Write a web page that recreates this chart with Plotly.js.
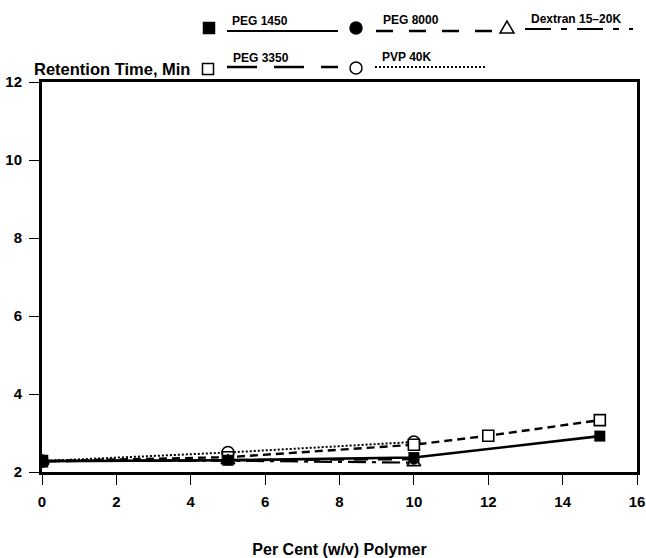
<!DOCTYPE html>
<html>
<head>
<meta charset="utf-8">
<script src="https://cdn.plot.ly/plotly-3.0.1.min.js"></script>
<style>html,body{margin:0;padding:0;background:#fff;}#chart{width:646px;height:558px;}</style>
</head>
<body>
<div id="chart"></div>
<script>
// ---- data ----
const seriesNames = ["PEG 1450", "PEG 8000", "Dextran 15\u201320K", "PEG 3350", "PVP 40K"];
const xPEG1450 = [0, 5, 10, 15];
const yPEG1450 = [2.28, 2.30, 2.37, 2.92];
const xPEG8000 = [0, 5, 10];
const yPEG8000 = [2.28, 2.31, 2.33];
const xDextran = [0, 5, 10];
const yDextran = [2.28, 2.29, 2.24];
const xPEG3350 = [0, 5, 10, 12, 15];
const yPEG3350 = [2.28, 2.38, 2.70, 2.93, 3.33];
const xPVP = [0, 5, 10];
const yPVP = [2.28, 2.50, 2.77];
const xTicks = [0, 2, 4, 6, 8, 10, 12, 14, 16];
const yTicks = [2, 4, 6, 8, 10, 12];
const xTitle = "Per Cent (w/v) Polymer";
const yTitle = "Retention Time, Min";

// ---- layout helpers ----
const FONT = "Liberation Sans, Arial, Helvetica, sans-serif";
const L = 42, R = 637, T = 82, B = 472, W = 646, H = 558;
const px = p => (p - L) / (R - L);
const py = p => (B - p) / (B - T);

const traces = [
  {name: seriesNames[4], x: xPVP, y: yPVP, mode: "lines+markers",
   line: {color: "black", width: 2, dash: "2px,2px"},
   marker: {symbol: "circle", size: 12, color: "white", line: {color: "black", width: 1.6}}},
  {name: seriesNames[3], x: xPEG3350, y: yPEG3350, mode: "lines+markers",
   line: {color: "black", width: 2.4, dash: "8px,5px"},
   marker: {symbol: "square", size: 11, color: "white", line: {color: "black", width: 1.6}}},
  {name: seriesNames[2], x: xDextran, y: yDextran, mode: "lines+markers",
   line: {color: "black", width: 2.2, dash: "18px,6px,4px,6px"},
   marker: {symbol: "triangle-up", size: 12, color: "white", line: {color: "black", width: 1.6}}},
  {name: seriesNames[1], x: xPEG8000, y: yPEG8000, mode: "lines+markers",
   line: {color: "black", width: 2.4, dash: "14px,10px"},
   marker: {symbol: "circle", size: 11, color: "black"}},
  {name: seriesNames[0], x: xPEG1450, y: yPEG1450, mode: "lines+markers",
   line: {color: "black", width: 2.6},
   marker: {symbol: "square", size: 11, color: "black"}}
];

// legend drawn as shapes + annotations (pixel positions)
const legendItems = [
  {mx: 209, my: 28, kind: "rect", fill: "black", tx: 230, ty: 21, lx0: 227, lx1: 338, ly: 31, dash: "solid", lw: 2, label: seriesNames[0]},
  {mx: 356, my: 28, kind: "circle", fill: "black", tx: 381, ty: 20, lx0: 376, lx1: 493, ly: 31, dash: "17px,16px", lw: 2.5, label: seriesNames[1]},
  {mx: 507, my: 28, kind: "tri", fill: "white", tx: 529, ty: 19, lx0: 525, lx1: 633, ly: 29, dash: "26px,10px,6px,10px", lw: 2, label: seriesNames[2]},
  {mx: 208, my: 69, kind: "rect", fill: "white", tx: 231, ty: 58, lx0: 227, lx1: 338, ly: 67, dash: "30px,17px", lw: 2.5, label: seriesNames[3]},
  {mx: 356, my: 68, kind: "circle", fill: "white", tx: 380, ty: 57, lx0: 375, lx1: 487, ly: 67, dash: "2px,2px", lw: 2, label: seriesNames[4]}
];

const shapes = [];
const annotations = [];
legendItems.forEach(it => {
  const s = 5.5;
  const mline = {color: "black", width: 1.5};
  if (it.kind === "rect") {
    shapes.push({type: "rect", xref: "paper", yref: "paper",
      x0: px(it.mx - s), x1: px(it.mx + s), y0: py(it.my + s), y1: py(it.my - s),
      fillcolor: it.fill, line: mline});
  } else if (it.kind === "circle") {
    shapes.push({type: "circle", xref: "paper", yref: "paper",
      x0: px(it.mx - s - 0.5), x1: px(it.mx + s + 0.5), y0: py(it.my + s + 0.5), y1: py(it.my - s - 0.5),
      fillcolor: it.fill, line: mline});
  } else {
    const p = `M ${px(it.mx - 7)} ${py(it.my + 5)} L ${px(it.mx + 7)} ${py(it.my + 5)} L ${px(it.mx)} ${py(it.my - 7)} Z`;
    shapes.push({type: "path", xref: "paper", yref: "paper", path: p, fillcolor: it.fill, line: mline});
  }
  shapes.push({type: "line", xref: "paper", yref: "paper",
    x0: px(it.lx0), x1: px(it.lx1), y0: py(it.ly), y1: py(it.ly),
    line: {color: "black", width: it.lw, dash: it.dash}});
  annotations.push({xref: "paper", yref: "paper", x: px(it.tx), y: py(it.ty),
    xanchor: "left", yanchor: "middle", showarrow: false, text: it.label,
    font: {family: FONT, size: 12, color: "black", weight: "bold"}});
});
annotations.push({xref: "paper", yref: "paper", x: px(32), y: py(69),
  xanchor: "left", yanchor: "middle", showarrow: false, text: yTitle,
  font: {family: FONT, size: 16.5, color: "black", weight: "bold"}});

const axisCommon = {
  showgrid: false, zeroline: false, showline: true, mirror: true,
  linecolor: "black", linewidth: 3,
  ticks: "outside", ticklen: 10, tickwidth: 1, tickcolor: "black",
  tickfont: {family: FONT, size: 15, color: "black", weight: "bold"},
  automargin: false, fixedrange: true
};

const layout = {
  width: W, height: H,
  margin: {l: L, r: W - R, t: T, b: H - B, pad: 0},
  paper_bgcolor: "white", plot_bgcolor: "white",
  showlegend: false,
  xaxis: Object.assign({}, axisCommon, {
    range: [0, 16], tickvals: xTicks, ticktext: xTicks.map(String),
    ticklabelstandoff: 4,
    title: {text: xTitle, standoff: 38, font: {family: FONT, size: 16, color: "black", weight: "bold"}}
  }),
  yaxis: Object.assign({}, axisCommon, {
    range: [2, 12], tickvals: yTicks, ticktext: yTicks.map(String),
    ticklabelstandoff: 4
  }),
  shapes: shapes,
  annotations: annotations
};

Plotly.newPlot("chart", traces, layout, {displayModeBar: false, staticPlot: true});
</script>
</body>
</html>
